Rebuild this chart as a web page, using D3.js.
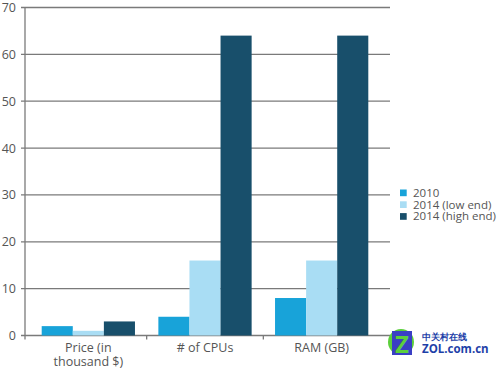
<!DOCTYPE html>
<html><head><meta charset="utf-8">
<script src="https://cdn.jsdelivr.net/npm/d3@7"></script>
<style>body{margin:0;background:#fff}svg{display:block}text{font-family:"Open Sans","Noto Sans",sans-serif}</style>
</head><body><svg id="c" width="500" height="369"></svg>
<script>
const categories = ["Price (in|thousand $)", "# of CPUs", "RAM (GB)"];
const seriesNames = ["2010", "2014 (low end)", "2014 (high end)"];
const v2010 = [2, 4, 8];
const v2014low = [1, 16, 16];
const v2014high = [3, 64, 64];
const yTicks = [0, 10, 20, 30, 40, 50, 60, 70];
const colors = ["#18a3d9", "#a9ddf4", "#184f6b"];

const series = [v2010, v2014low, v2014high];
const svg = d3.select("#c");
const axisX = 25, gridRight = 390;
const x = d3.scaleBand().domain(categories).range([30, 380]).paddingInner(0).paddingOuter(0);
const inner = d3.scaleBand().domain(seriesNames).range([11.7, x.bandwidth() - 11.7]);
const y = d3.scaleLinear().domain([0, 70]).range([335.5, 7.5]);

// gridlines
svg.append("g").selectAll("line").data(yTicks).join("line")
  .attr("x1", axisX - 4).attr("x2", gridRight)
  .attr("y1", d => y(d)).attr("y2", d => y(d))
  .attr("stroke", "#7a7a7a").attr("stroke-width", 1.3);
svg.append("g").selectAll("text").data(yTicks).join("text")
  .attr("x", 16).attr("y", d => y(d) + 4.5).attr("text-anchor", "end")
  .attr("font-size", 12.5).attr("fill", "#555").text(d => d);

// bars
categories.forEach((c, i) => {
  svg.append("g").selectAll("rect").data(seriesNames).join("rect")
    .attr("x", s => x(c) + inner(s))
    .attr("width", inner.bandwidth())
    .attr("y", (s, j) => y(series[j][i]))
    .attr("height", (s, j) => y(0) - y(series[j][i]))
    .attr("fill", (s, j) => colors[j]);
});

// axes
svg.append("line").attr("x1", axisX).attr("x2", axisX).attr("y1", y(70)).attr("y2", y(0) + 4)
  .attr("stroke", "#7a7a7a").attr("stroke-width", 1.3);
svg.append("g").selectAll("line").data(categories.slice(1)).join("line")
  .attr("x1", d => x(d)).attr("x2", d => x(d)).attr("y1", y(0)).attr("y2", y(0) + 4)
  .attr("stroke", "#7a7a7a").attr("stroke-width", 1.3);
svg.append("g").selectAll("text").data(categories).join("text")
  .attr("text-anchor", "middle").attr("font-size", 12.5).attr("fill", "#555")
  .attr("transform", d => `translate(${x(d) + x.bandwidth() / 2},352)`)
  .each(function (d) {
    d.split("|").forEach((t, k) => d3.select(this).append("tspan").attr("x", 0).attr("dy", k ? 13.5 : 0).text(t));
  });

// legend
const lg = svg.append("g").attr("transform", "translate(400,189.5)");
seriesNames.forEach((s, j) => {
  lg.append("rect").attr("x", 0).attr("y", j * 11.8).attr("width", 6.7).attr("height", 6.7).attr("fill", colors[j]);
  lg.append("text").attr("x", 13).attr("y", j * 11.8 + 7.3).attr("font-size", 11.5).attr("fill", "#555").text(s);
});

// watermark
const wm = svg.append("g").attr("transform", "translate(387,328)");
wm.append("circle").attr("cx", 14).attr("cy", 14).attr("r", 13).attr("fill", "#5ccf3c");
wm.append("rect").attr("x", 5).attr("y", 3).attr("width", 20).attr("height", 24).attr("fill", "#3a3fc4");
wm.append("text").attr("x", 15).attr("y", 25).attr("text-anchor", "middle").attr("font-size", 24).attr("font-weight", "bold").attr("fill", "#5ccf3c").text("Z");
wm.append("text").attr("x", 35).attr("y", 12).attr("font-size", 9).attr("font-weight", "bold").attr("fill", "#1e3fa8").attr("font-family", "Noto Sans CJK SC").text("中关村在线");
wm.append("text").attr("x", 35).attr("y", 25).attr("font-size", 11.5).attr("font-weight", "bold").attr("fill", "#1e3fa8").text("ZOL.com.cn");
</script></body></html>
